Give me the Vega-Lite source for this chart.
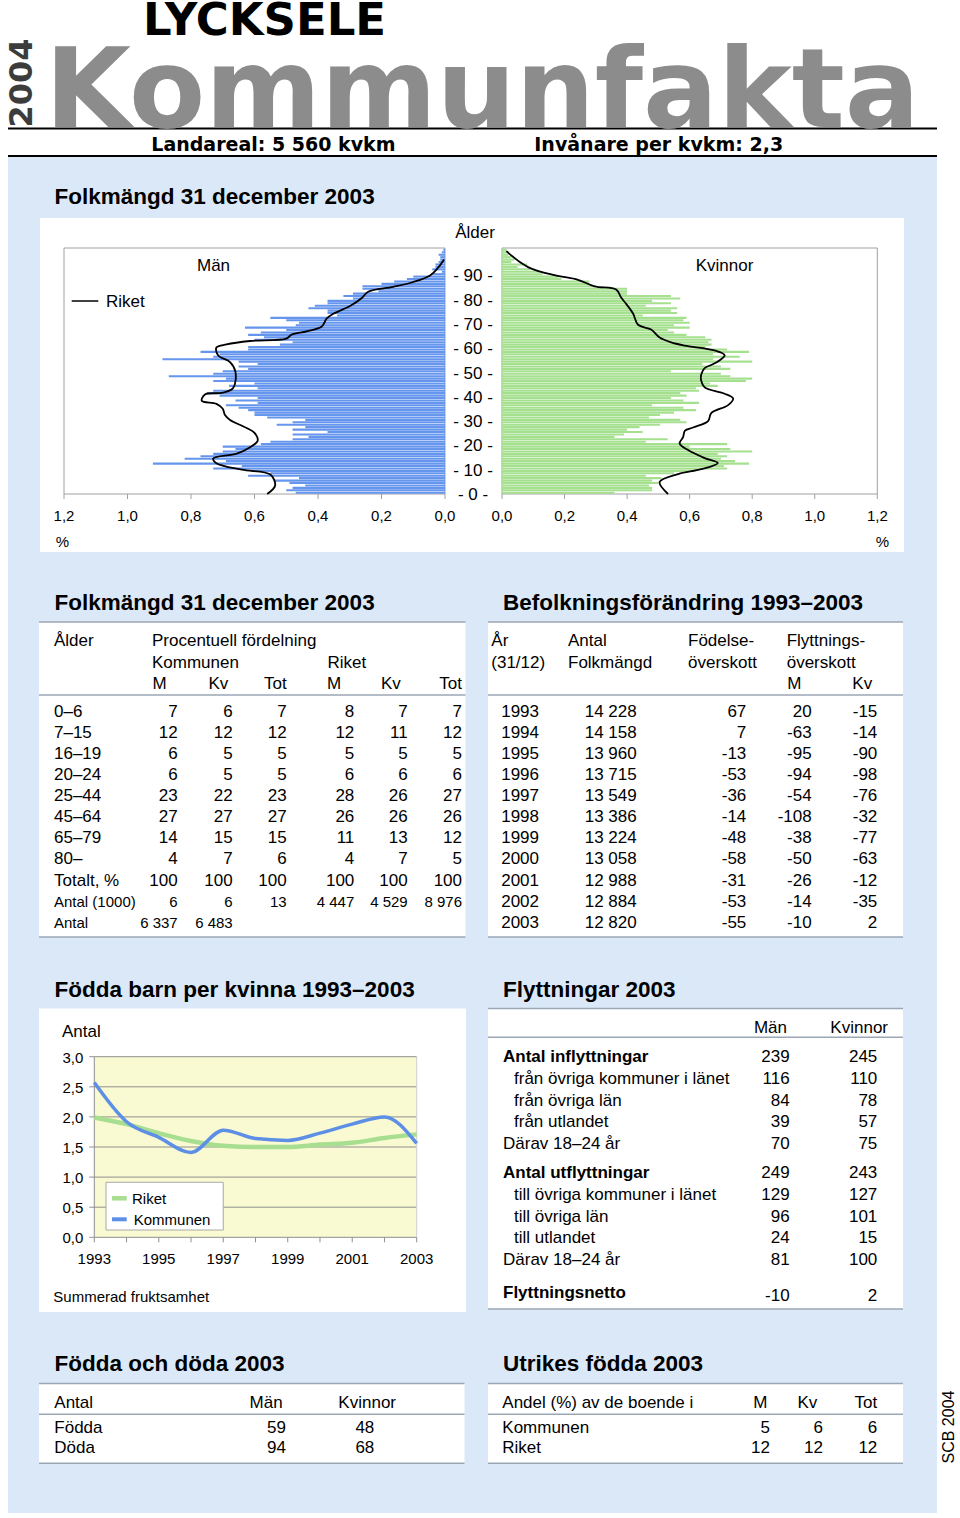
{
"$schema": "https://vega.github.io/schema/vega-lite/v6.json",
"width": 960, "height": 1518, "padding": 0, "autosize": {"type": "none"}, "background": "#ffffff",
"config": {
  "view": {"stroke": null},
  "axis": {"disable": true},
  "legend": {"disable": true},
  "text": {"font": "Liberation Sans", "fontSize": 17, "baseline": "middle", "align": "left", "color": "#000000"},
  "locale": {"number": {"decimal": ",", "thousands": " ", "grouping": [3], "currency": ["", ""], "minus": "-"}}
},
"datasets": {
  "pyramid": [
    {"age":0,"men":0.47,"women":0.36},{"age":1,"men":0.50,"women":0.48},{"age":2,"men":0.48,"women":0.48},{"age":3,"men":0.44,"women":0.47},{"age":4,"men":0.49,"women":0.50},
    {"age":5,"men":0.54,"women":0.48},{"age":6,"men":0.46,"women":0.51},{"age":7,"men":0.62,"women":0.46},{"age":8,"men":0.55,"women":0.55},{"age":9,"men":0.61,"women":0.61},
    {"age":10,"men":0.73,"women":0.72},{"age":11,"men":0.64,"women":0.71},{"age":12,"men":0.92,"women":0.79},{"age":13,"men":0.69,"women":0.745},{"age":14,"men":0.82,"women":0.70},
    {"age":15,"men":0.77,"women":0.72},{"age":16,"men":0.73,"women":0.69},{"age":17,"men":0.70,"women":0.80},{"age":18,"men":0.66,"women":0.73},{"age":19,"men":0.70,"women":0.60},
    {"age":20,"men":0.58,"women":0.72},{"age":21,"men":0.55,"women":0.46},{"age":22,"men":0.48,"women":0.53},{"age":23,"men":0.43,"women":0.36},{"age":24,"men":0.48,"women":0.39},
    {"age":25,"men":0.37,"women":0.45},{"age":26,"men":0.48,"women":0.40},{"age":27,"men":0.44,"women":0.44},{"age":28,"men":0.53,"women":0.505},{"age":29,"men":0.48,"women":0.59},
    {"age":30,"men":0.44,"women":0.57},{"age":31,"men":0.56,"women":0.47},{"age":32,"men":0.60,"women":0.505},{"age":33,"men":0.60,"women":0.55},{"age":34,"men":0.62,"women":0.62},
    {"age":35,"men":0.65,"women":0.58},{"age":36,"men":0.69,"women":0.48},{"age":37,"men":0.59,"women":0.63},{"age":38,"men":0.66,"women":0.58},{"age":39,"men":0.59,"women":0.54},
    {"age":40,"men":0.71,"women":0.59},{"age":41,"men":0.75,"women":0.57},{"age":42,"men":0.73,"women":0.63},{"age":43,"men":0.59,"women":0.62},{"age":44,"men":0.68,"women":0.69},
    {"age":45,"men":0.60,"women":0.665},{"age":46,"men":0.73,"women":0.78},{"age":47,"men":0.69,"women":0.80},{"age":48,"men":0.87,"women":0.73},{"age":49,"men":0.73,"women":0.70},
    {"age":50,"men":0.70,"women":0.54},{"age":51,"men":0.62,"women":0.73},{"age":52,"men":0.65,"women":0.70},{"age":53,"men":0.59,"women":0.64},{"age":54,"men":0.65,"women":0.80},
    {"age":55,"men":0.89,"women":0.675},{"age":56,"men":0.73,"women":0.76},{"age":57,"men":0.71,"women":0.675},{"age":58,"men":0.77,"women":0.79},{"age":59,"men":0.62,"women":0.72},
    {"age":60,"men":0.62,"women":0.65},{"age":61,"men":0.52,"women":0.67},{"age":62,"men":0.48,"women":0.66},{"age":63,"men":0.60,"women":0.67},{"age":64,"men":0.57,"women":0.65},
    {"age":65,"men":0.62,"women":0.59},{"age":66,"men":0.58,"women":0.55},{"age":67,"men":0.50,"women":0.53},{"age":68,"men":0.63,"women":0.60},{"age":69,"men":0.47,"women":0.55},
    {"age":70,"men":0.46,"women":0.60},{"age":71,"men":0.50,"women":0.58},{"age":72,"men":0.55,"women":0.59},{"age":73,"men":0.34,"women":0.45},{"age":74,"men":0.37,"women":0.56},
    {"age":75,"men":0.37,"women":0.54},{"age":76,"men":0.43,"women":0.56},{"age":77,"men":0.41,"women":0.46},{"age":78,"men":0.37,"women":0.54},{"age":79,"men":0.37,"women":0.48},
    {"age":80,"men":0.29,"women":0.57},{"age":81,"men":0.32,"women":0.54},{"age":82,"men":0.29,"women":0.40},{"age":83,"men":0.21,"women":0.40},{"age":84,"men":0.26,"women":0.40},
    {"age":85,"men":0.26,"women":0.30},{"age":86,"men":0.20,"women":0.28},{"age":87,"men":0.16,"women":0.28},{"age":88,"men":0.12,"women":0.19},{"age":89,"men":0.10,"women":0.18},
    {"age":90,"men":0.04,"women":0.13},{"age":91,"men":0.01,"women":0.12},{"age":92,"men":0.04,"women":0.09},{"age":93,"men":0.03,"women":0.05},{"age":94,"men":0.03,"women":0.08},
    {"age":95,"men":0.02,"women":0.03},{"age":96,"men":0.015,"women":0.04},{"age":97,"men":0.015,"women":0.03},{"age":98,"men":0.02,"women":0.02},{"age":99,"men":0.01,"women":0.015},
    {"age":100,"men":0.005,"women":0.015}
  ],
  "riketMen": [
    {"age":0,"share":0.56},{"age":3.5,"share":0.535},{"age":8,"share":0.55},{"age":10,"share":0.64},{"age":12.7,"share":0.72},{"age":14.6,"share":0.73},
    {"age":16.6,"share":0.656},{"age":19.3,"share":0.614},{"age":21.9,"share":0.59},{"age":25.2,"share":0.60},{"age":27.2,"share":0.625},{"age":30.5,"share":0.677},
    {"age":32.5,"share":0.693},{"age":35.1,"share":0.70},{"age":37.1,"share":0.72},{"age":38.4,"share":0.766},{"age":41,"share":0.756},{"age":41.7,"share":0.70},
    {"age":43.7,"share":0.667},{"age":50.3,"share":0.66},{"age":54.3,"share":0.677},{"age":57,"share":0.714},{"age":60.3,"share":0.72},{"age":61.6,"share":0.688},
    {"age":63,"share":0.614},{"age":64,"share":0.50},{"age":65.6,"share":0.483},{"age":67,"share":0.436},{"age":69,"share":0.388},{"age":72.2,"share":0.373},
    {"age":74.2,"share":0.352},{"age":77.4,"share":0.299},{"age":80.7,"share":0.262},{"age":83.3,"share":0.242},{"age":85.3,"share":0.163},{"age":87.3,"share":0.10},
    {"age":90,"share":0.047},{"age":93.3,"share":0.021},{"age":96.6,"share":0.003}
  ],
  "riketWomen": [
    {"age":0,"share":0.531},{"age":4.9,"share":0.504},{"age":8.2,"share":0.563},{"age":10.2,"share":0.637},{"age":12.8,"share":0.69},{"age":14.8,"share":0.648},
    {"age":18.1,"share":0.595},{"age":20.8,"share":0.568},{"age":23.4,"share":0.579},{"age":26.1,"share":0.585},{"age":27.4,"share":0.611},{"age":30,"share":0.659},
    {"age":33.3,"share":0.669},{"age":36.6,"share":0.723},{"age":39.3,"share":0.739},{"age":41.3,"share":0.712},{"age":43.9,"share":0.648},{"age":46.6,"share":0.637},
    {"age":49.2,"share":0.637},{"age":51.8,"share":0.648},{"age":53.8,"share":0.68},{"age":57.1,"share":0.712},{"age":59.1,"share":0.68},{"age":61.1,"share":0.584},
    {"age":62.4,"share":0.541},{"age":64.4,"share":0.504},{"age":67.7,"share":0.477},{"age":69.7,"share":0.435},{"age":74.3,"share":0.419},{"age":78.3,"share":0.397},
    {"age":80.9,"share":0.381},{"age":84.2,"share":0.365},{"age":85.5,"share":0.296},{"age":88.2,"share":0.243},{"age":90.1,"share":0.168},{"age":92.8,"share":0.094},
    {"age":96.1,"share":0.051},{"age":100,"share":0.014}
  ],
  "pyrTicks": [{"v":0},{"v":0.2},{"v":0.4},{"v":0.6},{"v":0.8},{"v":1.0},{"v":1.2}],
  "ageLabels": [
    {"age":0,"label":"- 0 -"},{"age":10,"label":"- 10 -"},{"age":20,"label":"- 20 -"},{"age":30,"label":"- 30 -"},{"age":40,"label":"- 40 -"},
    {"age":50,"label":"- 50 -"},{"age":60,"label":"- 60 -"},{"age":70,"label":"- 70 -"},{"age":80,"label":"- 80 -"},{"age":90,"label":"- 90 -"}
  ],
  "tfr": [
    {"year":1993,"riket":1.99,"kommunen":2.57},{"year":1994,"riket":1.88,"kommunen":1.92},{"year":1995,"riket":1.73,"kommunen":1.66},
    {"year":1996,"riket":1.60,"kommunen":1.41},{"year":1997,"riket":1.52,"kommunen":1.78},{"year":1998,"riket":1.50,"kommunen":1.64},
    {"year":1999,"riket":1.50,"kommunen":1.61},{"year":2000,"riket":1.54,"kommunen":1.73},{"year":2001,"riket":1.57,"kommunen":1.88},
    {"year":2002,"riket":1.65,"kommunen":2.00},{"year":2003,"riket":1.71,"kommunen":1.56}
  ],
  "grid": [{"v":0},{"v":0.5},{"v":1.0},{"v":1.5},{"v":2.0},{"v":2.5},{"v":3.0}],
  "folkmangd": [
    {"alder":"0–6","KM":7,"KKv":6,"KTot":7,"RM":8,"RKv":7,"RTot":7},
    {"alder":"7–15","KM":12,"KKv":12,"KTot":12,"RM":12,"RKv":11,"RTot":12},
    {"alder":"16–19","KM":6,"KKv":5,"KTot":5,"RM":5,"RKv":5,"RTot":5},
    {"alder":"20–24","KM":6,"KKv":5,"KTot":5,"RM":6,"RKv":6,"RTot":6},
    {"alder":"25–44","KM":23,"KKv":22,"KTot":23,"RM":28,"RKv":26,"RTot":27},
    {"alder":"45–64","KM":27,"KKv":27,"KTot":27,"RM":26,"RKv":26,"RTot":26},
    {"alder":"65–79","KM":14,"KKv":15,"KTot":15,"RM":11,"RKv":13,"RTot":12},
    {"alder":"80–","KM":4,"KKv":7,"KTot":6,"RM":4,"RKv":7,"RTot":5},
    {"alder":"Totalt, %","KM":100,"KKv":100,"KTot":100,"RM":100,"RKv":100,"RTot":100},
    {"alder":"Antal (1000)","KM":6,"KKv":6,"KTot":13,"RM":4447,"RKv":4529,"RTot":8976},
    {"alder":"Antal","KM":6337,"KKv":6483}
  ],
  "befolkning": [
    {"year":1993,"folkmangd":14228,"fodelse":67,"flyttM":20,"flyttKv":-15},
    {"year":1994,"folkmangd":14158,"fodelse":7,"flyttM":-63,"flyttKv":-14},
    {"year":1995,"folkmangd":13960,"fodelse":-13,"flyttM":-95,"flyttKv":-90},
    {"year":1996,"folkmangd":13715,"fodelse":-53,"flyttM":-94,"flyttKv":-98},
    {"year":1997,"folkmangd":13549,"fodelse":-36,"flyttM":-54,"flyttKv":-76},
    {"year":1998,"folkmangd":13386,"fodelse":-14,"flyttM":-108,"flyttKv":-32},
    {"year":1999,"folkmangd":13224,"fodelse":-48,"flyttM":-38,"flyttKv":-77},
    {"year":2000,"folkmangd":13058,"fodelse":-58,"flyttM":-50,"flyttKv":-63},
    {"year":2001,"folkmangd":12988,"fodelse":-31,"flyttM":-26,"flyttKv":-12},
    {"year":2002,"folkmangd":12884,"fodelse":-53,"flyttM":-14,"flyttKv":-35},
    {"year":2003,"folkmangd":12820,"fodelse":-55,"flyttM":-10,"flyttKv":2}
  ],
  "flytt": [
    {"grupp":"in","niva":"summa","rad":"Antal inflyttningar","man":239,"kvinnor":245},
    {"grupp":"in","niva":"del","rad":"från övriga kommuner i länet","man":116,"kvinnor":110},
    {"grupp":"in","niva":"del","rad":"från övriga län","man":84,"kvinnor":78},
    {"grupp":"in","niva":"del","rad":"från utlandet","man":39,"kvinnor":57},
    {"grupp":"in","niva":"darav","rad":"Därav 18–24 år","man":70,"kvinnor":75},
    {"grupp":"ut","niva":"summa","rad":"Antal utflyttningar","man":249,"kvinnor":243},
    {"grupp":"ut","niva":"del","rad":"till övriga kommuner i länet","man":129,"kvinnor":127},
    {"grupp":"ut","niva":"del","rad":"till övriga län","man":96,"kvinnor":101},
    {"grupp":"ut","niva":"del","rad":"till utlandet","man":24,"kvinnor":15},
    {"grupp":"ut","niva":"darav","rad":"Därav 18–24 år","man":81,"kvinnor":100},
    {"grupp":"netto","niva":"summa","rad":"Flyttningsnetto","man":-10,"kvinnor":2}
  ],
  "foddadoda": [{"rad":"Födda","man":59,"kvinnor":48},{"rad":"Döda","man":94,"kvinnor":68}],
  "utrikes": [{"rad":"Kommunen","M":5,"Kv":6,"Tot":6},{"rad":"Riket","M":12,"Kv":12,"Tot":12}]
},
"resolve": {"scale": {"x": "independent", "y": "independent"}},
"layer": [
  {
    "data": {"values": [{}]},
    "layer": [
      {"mark": {"type": "rect", "color": "#dbe8f8"}, "encoding": {"x": {"datum": 8, "type": "quantitative", "scale": {"domain": [0, 960], "range": [0, 960], "nice": false, "zero": false}}, "x2": {"datum": 937}, "y": {"datum": 157, "type": "quantitative", "scale": {"domain": [0, 1518], "range": [0, 1518], "nice": false, "zero": false}}, "y2": {"datum": 1513}}},
      {"mark": {"type": "rect", "color": "#ffffff"}, "encoding": {"x": {"datum": 40}, "x2": {"datum": 904}, "y": {"datum": 218}, "y2": {"datum": 552}}},
      {"mark": {"type": "rect", "color": "#ffffff"}, "encoding": {"x": {"datum": 39}, "x2": {"datum": 465.5}, "y": {"datum": 622}, "y2": {"datum": 937}}},
      {"mark": {"type": "rect", "color": "#ffffff"}, "encoding": {"x": {"datum": 488}, "x2": {"datum": 903}, "y": {"datum": 622}, "y2": {"datum": 937}}},
      {"mark": {"type": "rect", "color": "#ffffff"}, "encoding": {"x": {"datum": 39}, "x2": {"datum": 466}, "y": {"datum": 1008.5}, "y2": {"datum": 1312}}},
      {"mark": {"type": "rect", "color": "#ffffff"}, "encoding": {"x": {"datum": 488}, "x2": {"datum": 903}, "y": {"datum": 1008.5}, "y2": {"datum": 1309}}},
      {"mark": {"type": "rect", "color": "#ffffff"}, "encoding": {"x": {"datum": 39}, "x2": {"datum": 464.5}, "y": {"datum": 1383.5}, "y2": {"datum": 1463.3}}},
      {"mark": {"type": "rect", "color": "#ffffff"}, "encoding": {"x": {"datum": 488}, "x2": {"datum": 903}, "y": {"datum": 1383.5}, "y2": {"datum": 1463.3}}},
      {"mark": {"type": "rule", "color": "#000000", "strokeWidth": 2}, "encoding": {"x": {"datum": 8}, "x2": {"datum": 937}, "y": {"datum": 128.5}}},
      {"mark": {"type": "rule", "color": "#000000", "strokeWidth": 2}, "encoding": {"x": {"datum": 8}, "x2": {"datum": 937}, "y": {"datum": 156}}},
      {"mark": {"type": "rule", "color": "#9ba7b5", "strokeWidth": 1.5}, "encoding": {"x": {"datum": 39}, "x2": {"datum": 465.5}, "y": {"datum": 622}}},
      {"mark": {"type": "rule", "color": "#9ba7b5", "strokeWidth": 1.5}, "encoding": {"x": {"datum": 39}, "x2": {"datum": 465.5}, "y": {"datum": 695}}},
      {"mark": {"type": "rule", "color": "#9ba7b5", "strokeWidth": 1.5}, "encoding": {"x": {"datum": 39}, "x2": {"datum": 465.5}, "y": {"datum": 937}}},
      {"mark": {"type": "rule", "color": "#9ba7b5", "strokeWidth": 1.5}, "encoding": {"x": {"datum": 488}, "x2": {"datum": 903}, "y": {"datum": 622}}},
      {"mark": {"type": "rule", "color": "#9ba7b5", "strokeWidth": 1.5}, "encoding": {"x": {"datum": 488}, "x2": {"datum": 903}, "y": {"datum": 695}}},
      {"mark": {"type": "rule", "color": "#9ba7b5", "strokeWidth": 1.5}, "encoding": {"x": {"datum": 488}, "x2": {"datum": 903}, "y": {"datum": 937}}},
      {"mark": {"type": "rule", "color": "#9ba7b5", "strokeWidth": 1.5}, "encoding": {"x": {"datum": 488}, "x2": {"datum": 903}, "y": {"datum": 1008.5}}},
      {"mark": {"type": "rule", "color": "#9ba7b5", "strokeWidth": 1.5}, "encoding": {"x": {"datum": 488}, "x2": {"datum": 903}, "y": {"datum": 1037.3}}},
      {"mark": {"type": "rule", "color": "#9ba7b5", "strokeWidth": 1.5}, "encoding": {"x": {"datum": 488}, "x2": {"datum": 903}, "y": {"datum": 1309}}},
      {"mark": {"type": "rule", "color": "#9ba7b5", "strokeWidth": 1.5}, "encoding": {"x": {"datum": 39}, "x2": {"datum": 464.5}, "y": {"datum": 1383.5}}},
      {"mark": {"type": "rule", "color": "#9ba7b5", "strokeWidth": 1.5}, "encoding": {"x": {"datum": 39}, "x2": {"datum": 464.5}, "y": {"datum": 1414.3}}},
      {"mark": {"type": "rule", "color": "#9ba7b5", "strokeWidth": 1.5}, "encoding": {"x": {"datum": 39}, "x2": {"datum": 464.5}, "y": {"datum": 1463.3}}},
      {"mark": {"type": "rule", "color": "#9ba7b5", "strokeWidth": 1.5}, "encoding": {"x": {"datum": 488}, "x2": {"datum": 903}, "y": {"datum": 1383.5}}},
      {"mark": {"type": "rule", "color": "#9ba7b5", "strokeWidth": 1.5}, "encoding": {"x": {"datum": 488}, "x2": {"datum": 903}, "y": {"datum": 1414.3}}},
      {"mark": {"type": "rule", "color": "#9ba7b5", "strokeWidth": 1.5}, "encoding": {"x": {"datum": 488}, "x2": {"datum": 903}, "y": {"datum": 1463.3}}},

      {"mark": {"type": "text", "text": "LYCKSELE", "font": "DejaVu Sans", "fontWeight": "bold", "fontSize": 45, "baseline": "alphabetic"}, "encoding": {"x": {"datum": 143}, "y": {"datum": 35}}},
      {"mark": {"type": "text", "text": "Kommunfakta", "font": "DejaVu Sans", "fontWeight": "bold", "fontSize": 111, "baseline": "alphabetic", "color": "#8c8c8c"}, "encoding": {"x": {"datum": 45}, "y": {"datum": 127}}},
      {"mark": {"type": "text", "text": "2004", "font": "DejaVu Sans", "fontWeight": "bold", "fontSize": 32, "angle": 270, "align": "center", "color": "#3c3c3c"}, "encoding": {"x": {"datum": 22}, "y": {"datum": 83}}},
      {"mark": {"type": "text", "text": "Landareal: 5 560 kvkm", "font": "DejaVu Sans", "fontWeight": "bold", "fontSize": 19, "baseline": "alphabetic"}, "encoding": {"x": {"datum": 151.3}, "y": {"datum": 151}}},
      {"mark": {"type": "text", "text": "Invånare per kvkm: 2,3", "font": "DejaVu Sans", "fontWeight": "bold", "fontSize": 19, "baseline": "alphabetic"}, "encoding": {"x": {"datum": 534.3}, "y": {"datum": 151}}},
      {"mark": {"type": "text", "text": "SCB 2004", "fontSize": 16, "angle": 270, "align": "center"}, "encoding": {"x": {"datum": 949}, "y": {"datum": 1427}}},

      {"mark": {"type": "text", "text": "Folkmängd 31 december 2003", "fontWeight": "bold", "fontSize": 22.5}, "encoding": {"x": {"datum": 54.5}, "y": {"datum": 197}}},
      {"mark": {"type": "text", "text": "Folkmängd 31 december 2003", "fontWeight": "bold", "fontSize": 22.5}, "encoding": {"x": {"datum": 54.5}, "y": {"datum": 603}}},
      {"mark": {"type": "text", "text": "Befolkningsförändring 1993–2003", "fontWeight": "bold", "fontSize": 22.5}, "encoding": {"x": {"datum": 503}, "y": {"datum": 603}}},
      {"mark": {"type": "text", "text": "Födda barn per kvinna 1993–2003", "fontWeight": "bold", "fontSize": 22.5}, "encoding": {"x": {"datum": 54.5}, "y": {"datum": 990}}},
      {"mark": {"type": "text", "text": "Flyttningar 2003", "fontWeight": "bold", "fontSize": 22.5}, "encoding": {"x": {"datum": 503}, "y": {"datum": 990}}},
      {"mark": {"type": "text", "text": "Födda och döda 2003", "fontWeight": "bold", "fontSize": 22.5}, "encoding": {"x": {"datum": 54.5}, "y": {"datum": 1364}}},
      {"mark": {"type": "text", "text": "Utrikes födda 2003", "fontWeight": "bold", "fontSize": 22.5}, "encoding": {"x": {"datum": 503}, "y": {"datum": 1364}}},

      {"mark": {"type": "text", "text": "Ålder", "align": "center"}, "encoding": {"x": {"datum": 475}, "y": {"datum": 233}}},
      {"mark": {"type": "text", "text": "Män", "align": "center"}, "encoding": {"x": {"datum": 213.5}, "y": {"datum": 266}}},
      {"mark": {"type": "text", "text": "Kvinnor", "align": "center"}, "encoding": {"x": {"datum": 724.5}, "y": {"datum": 266}}},
      {"mark": {"type": "rule", "color": "#000000", "strokeWidth": 1.5}, "encoding": {"x": {"datum": 71.7}, "x2": {"datum": 98.3}, "y": {"datum": 301}}},
      {"mark": {"type": "text", "text": "Riket"}, "encoding": {"x": {"datum": 106}, "y": {"datum": 302}}},
      {"mark": {"type": "text", "text": "%", "align": "center", "fontSize": 15}, "encoding": {"x": {"datum": 62.5}, "y": {"datum": 542}}},
      {"mark": {"type": "text", "text": "%", "align": "center", "fontSize": 15}, "encoding": {"x": {"datum": 882.5}, "y": {"datum": 542}}},

      {"mark": {"type": "text", "text": "Ålder"}, "encoding": {"x": {"datum": 54}, "y": {"datum": 641}}},
      {"mark": {"type": "text", "text": "Procentuell fördelning"}, "encoding": {"x": {"datum": 152}, "y": {"datum": 641}}},
      {"mark": {"type": "text", "text": "Kommunen"}, "encoding": {"x": {"datum": 152}, "y": {"datum": 662.7}}},
      {"mark": {"type": "text", "text": "Riket"}, "encoding": {"x": {"datum": 327.5}, "y": {"datum": 662.7}}},
      {"mark": {"type": "text", "text": "M"}, "encoding": {"x": {"datum": 152.5}, "y": {"datum": 683.7}}},
      {"mark": {"type": "text", "text": "Kv"}, "encoding": {"x": {"datum": 208.5}, "y": {"datum": 683.7}}},
      {"mark": {"type": "text", "text": "Tot", "align": "right"}, "encoding": {"x": {"datum": 286.7}, "y": {"datum": 683.7}}},
      {"mark": {"type": "text", "text": "M"}, "encoding": {"x": {"datum": 327}, "y": {"datum": 683.7}}},
      {"mark": {"type": "text", "text": "Kv"}, "encoding": {"x": {"datum": 381}, "y": {"datum": 683.7}}},
      {"mark": {"type": "text", "text": "Tot", "align": "right"}, "encoding": {"x": {"datum": 462}, "y": {"datum": 683.7}}},

      {"mark": {"type": "text", "text": "År"}, "encoding": {"x": {"datum": 491.3}, "y": {"datum": 641}}},
      {"mark": {"type": "text", "text": "(31/12)"}, "encoding": {"x": {"datum": 491.3}, "y": {"datum": 662.7}}},
      {"mark": {"type": "text", "text": "Antal"}, "encoding": {"x": {"datum": 568}, "y": {"datum": 641}}},
      {"mark": {"type": "text", "text": "Folkmängd"}, "encoding": {"x": {"datum": 568}, "y": {"datum": 662.7}}},
      {"mark": {"type": "text", "text": "Födelse-"}, "encoding": {"x": {"datum": 688}, "y": {"datum": 641}}},
      {"mark": {"type": "text", "text": "överskott"}, "encoding": {"x": {"datum": 688}, "y": {"datum": 662.7}}},
      {"mark": {"type": "text", "text": "Flyttnings-"}, "encoding": {"x": {"datum": 786.7}, "y": {"datum": 641}}},
      {"mark": {"type": "text", "text": "överskott"}, "encoding": {"x": {"datum": 786.7}, "y": {"datum": 662.7}}},
      {"mark": {"type": "text", "text": "M"}, "encoding": {"x": {"datum": 787.3}, "y": {"datum": 683.7}}},
      {"mark": {"type": "text", "text": "Kv"}, "encoding": {"x": {"datum": 852.3}, "y": {"datum": 683.7}}},

      {"mark": {"type": "text", "text": "Antal"}, "encoding": {"x": {"datum": 62}, "y": {"datum": 1032}}},
      {"mark": {"type": "text", "text": "Summerad fruktsamhet", "fontSize": 15}, "encoding": {"x": {"datum": 53.3}, "y": {"datum": 1297}}},

      {"mark": {"type": "text", "text": "Män", "align": "right"}, "encoding": {"x": {"datum": 787}, "y": {"datum": 1027.7}}},
      {"mark": {"type": "text", "text": "Kvinnor", "align": "right"}, "encoding": {"x": {"datum": 888}, "y": {"datum": 1027.7}}},

      {"mark": {"type": "text", "text": "Antal"}, "encoding": {"x": {"datum": 54.3}, "y": {"datum": 1403.3}}},
      {"mark": {"type": "text", "text": "Män", "align": "right"}, "encoding": {"x": {"datum": 282.7}, "y": {"datum": 1403.3}}},
      {"mark": {"type": "text", "text": "Kvinnor", "align": "right"}, "encoding": {"x": {"datum": 396}, "y": {"datum": 1403.3}}},
      {"mark": {"type": "text", "text": "Andel (%) av de boende i"}, "encoding": {"x": {"datum": 502.3}, "y": {"datum": 1403.3}}},
      {"mark": {"type": "text", "text": "M", "align": "right"}, "encoding": {"x": {"datum": 767.3}, "y": {"datum": 1403.3}}},
      {"mark": {"type": "text", "text": "Kv", "align": "right"}, "encoding": {"x": {"datum": 817.3}, "y": {"datum": 1403.3}}},
      {"mark": {"type": "text", "text": "Tot", "align": "right"}, "encoding": {"x": {"datum": 877.3}, "y": {"datum": 1403.3}}}
    ]
  },
  {
    "resolve": {"scale": {"x": "independent"}},
    "layer": [
      {
        "layer": [
          {"data": {"values": [{}]}, "mark": {"type": "rect", "filled": false, "color": "#a0a0a0", "strokeWidth": 1}, "encoding": {"x": {"datum": 0, "type": "quantitative", "scale": {"domain": [0, 1.2], "range": [445, 64], "nice": false, "zero": false}}, "x2": {"datum": 1.2}, "y": {"datum": 0, "type": "quantitative", "scale": {"domain": [0, 101.3], "range": [499, 243], "nice": false, "zero": false}}, "y2": {"datum": 101.3}}},
          {"data": {"name": "pyramid"}, "mark": {"type": "bar", "orient": "horizontal", "size": 2.1, "yOffset": -1.26, "color": "#6595ec"}, "encoding": {"x": {"field": "men", "type": "quantitative"}, "y": {"field": "age", "type": "quantitative"}}},
          {"data": {"name": "riketMen"}, "mark": {"type": "line", "color": "#000000", "strokeWidth": 1.8, "interpolate": "catmull-rom"}, "encoding": {"x": {"field": "share", "type": "quantitative"}, "y": {"field": "age", "type": "quantitative"}, "order": {"field": "age", "type": "quantitative"}}},
          {"data": {"name": "pyrTicks"}, "mark": {"type": "rule", "color": "#a0a0a0", "y2Offset": 5}, "encoding": {"x": {"field": "v", "type": "quantitative"}, "y": {"datum": 0}, "y2": {"datum": 0}}},
          {"data": {"name": "pyrTicks"}, "mark": {"type": "text", "align": "center", "fontSize": 15, "dy": 22}, "encoding": {"x": {"field": "v", "type": "quantitative"}, "y": {"datum": 0}, "text": {"field": "v", "type": "quantitative", "format": ".1f"}}}
        ]
      },
      {
        "layer": [
          {"data": {"values": [{}]}, "mark": {"type": "rect", "filled": false, "color": "#a0a0a0", "strokeWidth": 1}, "encoding": {"x": {"datum": 0, "type": "quantitative", "scale": {"domain": [0, 1.2], "range": [502, 877.3], "nice": false, "zero": false}}, "x2": {"datum": 1.2}, "y": {"datum": 0}, "y2": {"datum": 101.3}}},
          {"data": {"name": "pyramid"}, "mark": {"type": "bar", "orient": "horizontal", "size": 2.1, "yOffset": -1.26, "color": "#a5e08f"}, "encoding": {"x": {"field": "women", "type": "quantitative"}, "y": {"field": "age", "type": "quantitative"}}},
          {"data": {"name": "riketWomen"}, "mark": {"type": "line", "color": "#000000", "strokeWidth": 1.8, "interpolate": "catmull-rom"}, "encoding": {"x": {"field": "share", "type": "quantitative"}, "y": {"field": "age", "type": "quantitative"}, "order": {"field": "age", "type": "quantitative"}}},
          {"data": {"name": "pyrTicks"}, "mark": {"type": "rule", "color": "#a0a0a0", "y2Offset": 5}, "encoding": {"x": {"field": "v", "type": "quantitative"}, "y": {"datum": 0}, "y2": {"datum": 0}}},
          {"data": {"name": "pyrTicks"}, "mark": {"type": "text", "align": "center", "fontSize": 15, "dy": 22}, "encoding": {"x": {"field": "v", "type": "quantitative"}, "y": {"datum": 0}, "text": {"field": "v", "type": "quantitative", "format": ".1f"}}},
          {"data": {"name": "ageLabels"}, "mark": {"type": "text", "align": "center", "fontSize": 17, "dx": -29, "dy": 1}, "encoding": {"x": {"datum": 0}, "y": {"field": "age", "type": "quantitative"}, "text": {"field": "label"}}}
        ]
      }
    ]
  },
  {
    "layer": [
      {"data": {"values": [{}]}, "mark": {"type": "rect", "color": "#fafad2"}, "encoding": {"x": {"datum": 1993, "type": "quantitative", "scale": {"domain": [1993, 2003], "range": [94.3, 416.7], "nice": false, "zero": false}}, "x2": {"datum": 2003}, "y": {"datum": 0, "type": "quantitative", "scale": {"domain": [0, 3], "range": [1237.3, 1056.7], "nice": false, "zero": false}}, "y2": {"datum": 3}}},
      {"data": {"name": "grid"}, "transform": [{"filter": "datum.v > 0"}], "mark": {"type": "rule", "color": "#8f8f8f", "strokeWidth": 1}, "encoding": {"x": {"datum": 1993}, "x2": {"datum": 2003}, "y": {"field": "v", "type": "quantitative"}}},
      {"data": {"values": [{}]}, "mark": {"type": "rule", "color": "#8f8f8f"}, "encoding": {"x": {"datum": 1993}, "y": {"datum": 0}, "y2": {"datum": 3}}},
      {"data": {"values": [{}]}, "mark": {"type": "rule", "color": "#8f8f8f"}, "encoding": {"x": {"datum": 1993}, "x2": {"datum": 2003}, "y": {"datum": 0}}},
      {"data": {"values": [{}]}, "mark": {"type": "rule", "color": "#cfcfcf"}, "encoding": {"x": {"datum": 2003}, "y": {"datum": 0}, "y2": {"datum": 3}}},
      {"data": {"name": "tfr"}, "mark": {"type": "rule", "color": "#8f8f8f", "y2Offset": 5}, "encoding": {"x": {"field": "year", "type": "quantitative"}, "y": {"datum": 0}, "y2": {"datum": 0}}},
      {"data": {"name": "grid"}, "mark": {"type": "rule", "color": "#8f8f8f", "x2Offset": -5}, "encoding": {"x": {"datum": 1993}, "x2": {"datum": 1993}, "y": {"field": "v", "type": "quantitative"}}},
      {"data": {"name": "grid"}, "mark": {"type": "text", "align": "right", "fontSize": 15, "dx": -11, "dy": 1}, "encoding": {"x": {"datum": 1993}, "y": {"field": "v", "type": "quantitative"}, "text": {"field": "v", "type": "quantitative", "format": ".1f"}}},
      {"data": {"name": "tfr"}, "transform": [{"filter": "datum.year % 2 == 1"}], "mark": {"type": "text", "align": "center", "fontSize": 15, "dy": 22}, "encoding": {"x": {"field": "year", "type": "quantitative"}, "y": {"datum": 0}, "text": {"field": "year", "type": "nominal"}}},
      {"data": {"name": "tfr"}, "mark": {"type": "line", "color": "#a8de90", "strokeWidth": 4.5, "interpolate": "monotone"}, "encoding": {"x": {"field": "year", "type": "quantitative"}, "y": {"field": "riket", "type": "quantitative"}}},
      {"data": {"name": "tfr"}, "mark": {"type": "line", "color": "#5d8fe6", "strokeWidth": 3.5, "interpolate": "monotone"}, "encoding": {"x": {"field": "year", "type": "quantitative"}, "y": {"field": "kommunen", "type": "quantitative"}}},
      {"data": {"values": [{}]}, "mark": {"type": "rect", "color": "#ffffff", "stroke": "#a8a8a8", "strokeWidth": 1}, "encoding": {"x": {"datum": 1993.363}, "x2": {"datum": 1997.0}, "y": {"datum": 0.914}, "y2": {"datum": 0.121}}},
      {"data": {"values": [{}]}, "mark": {"type": "rule", "color": "#a8de90", "strokeWidth": 4.5}, "encoding": {"x": {"datum": 1993.549}, "x2": {"datum": 1994.005}, "y": {"datum": 0.648}}},
      {"data": {"values": [{}]}, "mark": {"type": "rule", "color": "#5d8fe6", "strokeWidth": 4}, "encoding": {"x": {"datum": 1993.549}, "x2": {"datum": 1994.005}, "y": {"datum": 0.299}}},
      {"data": {"values": [{}]}, "mark": {"type": "text", "text": "Riket", "fontSize": 15, "dy": 1}, "encoding": {"x": {"datum": 1994.169}, "y": {"datum": 0.648}}},
      {"data": {"values": [{}]}, "mark": {"type": "text", "text": "Kommunen", "fontSize": 15, "dy": 1}, "encoding": {"x": {"datum": 1994.222}, "y": {"datum": 0.299}}}
    ]
  },
  {
    "data": {"name": "folkmangd"},
    "layer": [
      {"mark": {"type": "text", "align": "left"}, "encoding": {"x": {"datum": 54, "type": "quantitative", "scale": {"domain": [0, 960], "range": [0, 960], "nice": false, "zero": false}}, "y": {"field": "alder", "type": "nominal", "sort": null, "scale": {"type": "point", "domain": ["0–6","7–15","16–19","20–24","25–44","45–64","65–79","80–","Totalt, %","Antal (1000)","Antal"], "range": [711.7, 922.7], "padding": 0}}, "text": {"field": "alder"}, "size": {"condition": {"test": "datum.alder === 'Antal (1000)' || datum.alder === 'Antal'", "value": 15}, "value": 17}}},
      {"transform": [{"filter": {"field": "KM", "valid": true}}], "mark": {"type": "text", "align": "right"}, "encoding": {"x": {"datum": 177.7}, "y": {"field": "alder", "type": "nominal", "sort": null}, "text": {"field": "KM", "type": "quantitative", "format": ",d"}, "size": {"condition": {"test": "datum.alder === 'Antal (1000)' || datum.alder === 'Antal'", "value": 15}, "value": 17}}},
      {"transform": [{"filter": {"field": "KKv", "valid": true}}], "mark": {"type": "text", "align": "right"}, "encoding": {"x": {"datum": 232.7}, "y": {"field": "alder", "type": "nominal", "sort": null}, "text": {"field": "KKv", "type": "quantitative", "format": ",d"}, "size": {"condition": {"test": "datum.alder === 'Antal (1000)' || datum.alder === 'Antal'", "value": 15}, "value": 17}}},
      {"transform": [{"filter": {"field": "KTot", "valid": true}}], "mark": {"type": "text", "align": "right"}, "encoding": {"x": {"datum": 286.7}, "y": {"field": "alder", "type": "nominal", "sort": null}, "text": {"field": "KTot", "type": "quantitative", "format": ",d"}, "size": {"condition": {"test": "datum.alder === 'Antal (1000)' || datum.alder === 'Antal'", "value": 15}, "value": 17}}},
      {"transform": [{"filter": {"field": "RM", "valid": true}}], "mark": {"type": "text", "align": "right"}, "encoding": {"x": {"datum": 354.3}, "y": {"field": "alder", "type": "nominal", "sort": null}, "text": {"field": "RM", "type": "quantitative", "format": ",d"}, "size": {"condition": {"test": "datum.alder === 'Antal (1000)' || datum.alder === 'Antal'", "value": 15}, "value": 17}}},
      {"transform": [{"filter": {"field": "RKv", "valid": true}}], "mark": {"type": "text", "align": "right"}, "encoding": {"x": {"datum": 407.7}, "y": {"field": "alder", "type": "nominal", "sort": null}, "text": {"field": "RKv", "type": "quantitative", "format": ",d"}, "size": {"condition": {"test": "datum.alder === 'Antal (1000)' || datum.alder === 'Antal'", "value": 15}, "value": 17}}},
      {"transform": [{"filter": {"field": "RTot", "valid": true}}], "mark": {"type": "text", "align": "right"}, "encoding": {"x": {"datum": 462}, "y": {"field": "alder", "type": "nominal", "sort": null}, "text": {"field": "RTot", "type": "quantitative", "format": ",d"}, "size": {"condition": {"test": "datum.alder === 'Antal (1000)' || datum.alder === 'Antal'", "value": 15}, "value": 17}}}
    ]
  },
  {
    "data": {"name": "befolkning"},
    "layer": [
      {"mark": {"type": "text", "align": "right"}, "encoding": {"x": {"datum": 539, "type": "quantitative", "scale": {"domain": [0, 960], "range": [0, 960], "nice": false, "zero": false}}, "y": {"field": "year", "type": "nominal", "sort": null, "scale": {"type": "point", "range": [711.7, 922.7], "padding": 0}}, "text": {"field": "year", "type": "nominal"}}},
      {"mark": {"type": "text", "align": "right"}, "encoding": {"x": {"datum": 636.7}, "y": {"field": "year", "type": "nominal", "sort": null}, "text": {"field": "folkmangd", "type": "quantitative", "format": ",d"}}},
      {"mark": {"type": "text", "align": "right"}, "encoding": {"x": {"datum": 746.3}, "y": {"field": "year", "type": "nominal", "sort": null}, "text": {"field": "fodelse", "type": "quantitative", "format": ",d"}}},
      {"mark": {"type": "text", "align": "right"}, "encoding": {"x": {"datum": 811.7}, "y": {"field": "year", "type": "nominal", "sort": null}, "text": {"field": "flyttM", "type": "quantitative", "format": ",d"}}},
      {"mark": {"type": "text", "align": "right"}, "encoding": {"x": {"datum": 877.3}, "y": {"field": "year", "type": "nominal", "sort": null}, "text": {"field": "flyttKv", "type": "quantitative", "format": ",d"}}}
    ]
  },
  {
    "data": {"name": "flytt"},
    "transform": [{"filter": "datum.grupp === 'in'"}],
    "layer": [
      {"transform": [{"filter": "datum.niva === 'summa'"}], "mark": {"type": "text", "fontWeight": "bold"}, "encoding": {"x": {"datum": 503, "type": "quantitative", "scale": {"domain": [0, 960], "range": [0, 960], "nice": false, "zero": false}}, "y": {"field": "rad", "type": "nominal", "sort": null, "scale": {"type": "point", "domain": ["Antal inflyttningar","från övriga kommuner i länet","från övriga län","från utlandet","Därav 18–24 år"], "range": [1056.7, 1144.3], "padding": 0}}, "text": {"field": "rad"}}},
      {"transform": [{"filter": "datum.niva === 'del'"}], "mark": {"type": "text"}, "encoding": {"x": {"datum": 514}, "y": {"field": "rad", "type": "nominal", "sort": null}, "text": {"field": "rad"}}},
      {"transform": [{"filter": "datum.niva === 'darav'"}], "mark": {"type": "text"}, "encoding": {"x": {"datum": 503}, "y": {"field": "rad", "type": "nominal", "sort": null}, "text": {"field": "rad"}}},
      {"mark": {"type": "text", "align": "right"}, "encoding": {"x": {"datum": 789.7}, "y": {"field": "rad", "type": "nominal", "sort": null}, "text": {"field": "man", "type": "quantitative", "format": ",d"}}},
      {"mark": {"type": "text", "align": "right"}, "encoding": {"x": {"datum": 877.3}, "y": {"field": "rad", "type": "nominal", "sort": null}, "text": {"field": "kvinnor", "type": "quantitative", "format": ",d"}}}
    ]
  },
  {
    "data": {"name": "flytt"},
    "transform": [{"filter": "datum.grupp === 'ut'"}],
    "layer": [
      {"transform": [{"filter": "datum.niva === 'summa'"}], "mark": {"type": "text", "fontWeight": "bold"}, "encoding": {"x": {"datum": 503, "type": "quantitative", "scale": {"domain": [0, 960], "range": [0, 960], "nice": false, "zero": false}}, "y": {"field": "rad", "type": "nominal", "sort": null, "scale": {"type": "point", "domain": ["Antal utflyttningar","till övriga kommuner i länet","till övriga län","till utlandet","Därav 18–24 år"], "range": [1172.7, 1260.3], "padding": 0}}, "text": {"field": "rad"}}},
      {"transform": [{"filter": "datum.niva === 'del'"}], "mark": {"type": "text"}, "encoding": {"x": {"datum": 514}, "y": {"field": "rad", "type": "nominal", "sort": null}, "text": {"field": "rad"}}},
      {"transform": [{"filter": "datum.niva === 'darav'"}], "mark": {"type": "text"}, "encoding": {"x": {"datum": 503}, "y": {"field": "rad", "type": "nominal", "sort": null}, "text": {"field": "rad"}}},
      {"mark": {"type": "text", "align": "right"}, "encoding": {"x": {"datum": 789.7}, "y": {"field": "rad", "type": "nominal", "sort": null}, "text": {"field": "man", "type": "quantitative", "format": ",d"}}},
      {"mark": {"type": "text", "align": "right"}, "encoding": {"x": {"datum": 877.3}, "y": {"field": "rad", "type": "nominal", "sort": null}, "text": {"field": "kvinnor", "type": "quantitative", "format": ",d"}}}
    ]
  },
  {
    "data": {"name": "flytt"},
    "transform": [{"filter": "datum.grupp === 'netto'"}],
    "layer": [
      {"mark": {"type": "text", "fontWeight": "bold"}, "encoding": {"x": {"datum": 503, "type": "quantitative", "scale": {"domain": [0, 960], "range": [0, 960], "nice": false, "zero": false}}, "y": {"field": "rad", "type": "nominal", "scale": {"type": "point", "range": [1293.3, 1293.3], "padding": 0}}, "text": {"field": "rad"}}},
      {"mark": {"type": "text", "align": "right", "dy": 3}, "encoding": {"x": {"datum": 789.7}, "y": {"field": "rad", "type": "nominal"}, "text": {"field": "man", "type": "quantitative", "format": ",d"}}},
      {"mark": {"type": "text", "align": "right", "dy": 3}, "encoding": {"x": {"datum": 877.3}, "y": {"field": "rad", "type": "nominal"}, "text": {"field": "kvinnor", "type": "quantitative", "format": ",d"}}}
    ]
  },
  {
    "data": {"name": "foddadoda"},
    "layer": [
      {"mark": {"type": "text"}, "encoding": {"x": {"datum": 54.3, "type": "quantitative", "scale": {"domain": [0, 960], "range": [0, 960], "nice": false, "zero": false}}, "y": {"field": "rad", "type": "nominal", "sort": null, "scale": {"type": "point", "range": [1427.7, 1448.3], "padding": 0}}, "text": {"field": "rad"}}},
      {"mark": {"type": "text", "align": "right"}, "encoding": {"x": {"datum": 286}, "y": {"field": "rad", "type": "nominal", "sort": null}, "text": {"field": "man", "type": "quantitative", "format": ",d"}}},
      {"mark": {"type": "text", "align": "right"}, "encoding": {"x": {"datum": 374.3}, "y": {"field": "rad", "type": "nominal", "sort": null}, "text": {"field": "kvinnor", "type": "quantitative", "format": ",d"}}}
    ]
  },
  {
    "data": {"name": "utrikes"},
    "layer": [
      {"mark": {"type": "text"}, "encoding": {"x": {"datum": 502.3, "type": "quantitative", "scale": {"domain": [0, 960], "range": [0, 960], "nice": false, "zero": false}}, "y": {"field": "rad", "type": "nominal", "sort": null, "scale": {"type": "point", "range": [1427.7, 1448.3], "padding": 0}}, "text": {"field": "rad"}}},
      {"mark": {"type": "text", "align": "right"}, "encoding": {"x": {"datum": 770}, "y": {"field": "rad", "type": "nominal", "sort": null}, "text": {"field": "M", "type": "quantitative", "format": ",d"}}},
      {"mark": {"type": "text", "align": "right"}, "encoding": {"x": {"datum": 823}, "y": {"field": "rad", "type": "nominal", "sort": null}, "text": {"field": "Kv", "type": "quantitative", "format": ",d"}}},
      {"mark": {"type": "text", "align": "right"}, "encoding": {"x": {"datum": 877.3}, "y": {"field": "rad", "type": "nominal", "sort": null}, "text": {"field": "Tot", "type": "quantitative", "format": ",d"}}}
    ]
  }
]
}
